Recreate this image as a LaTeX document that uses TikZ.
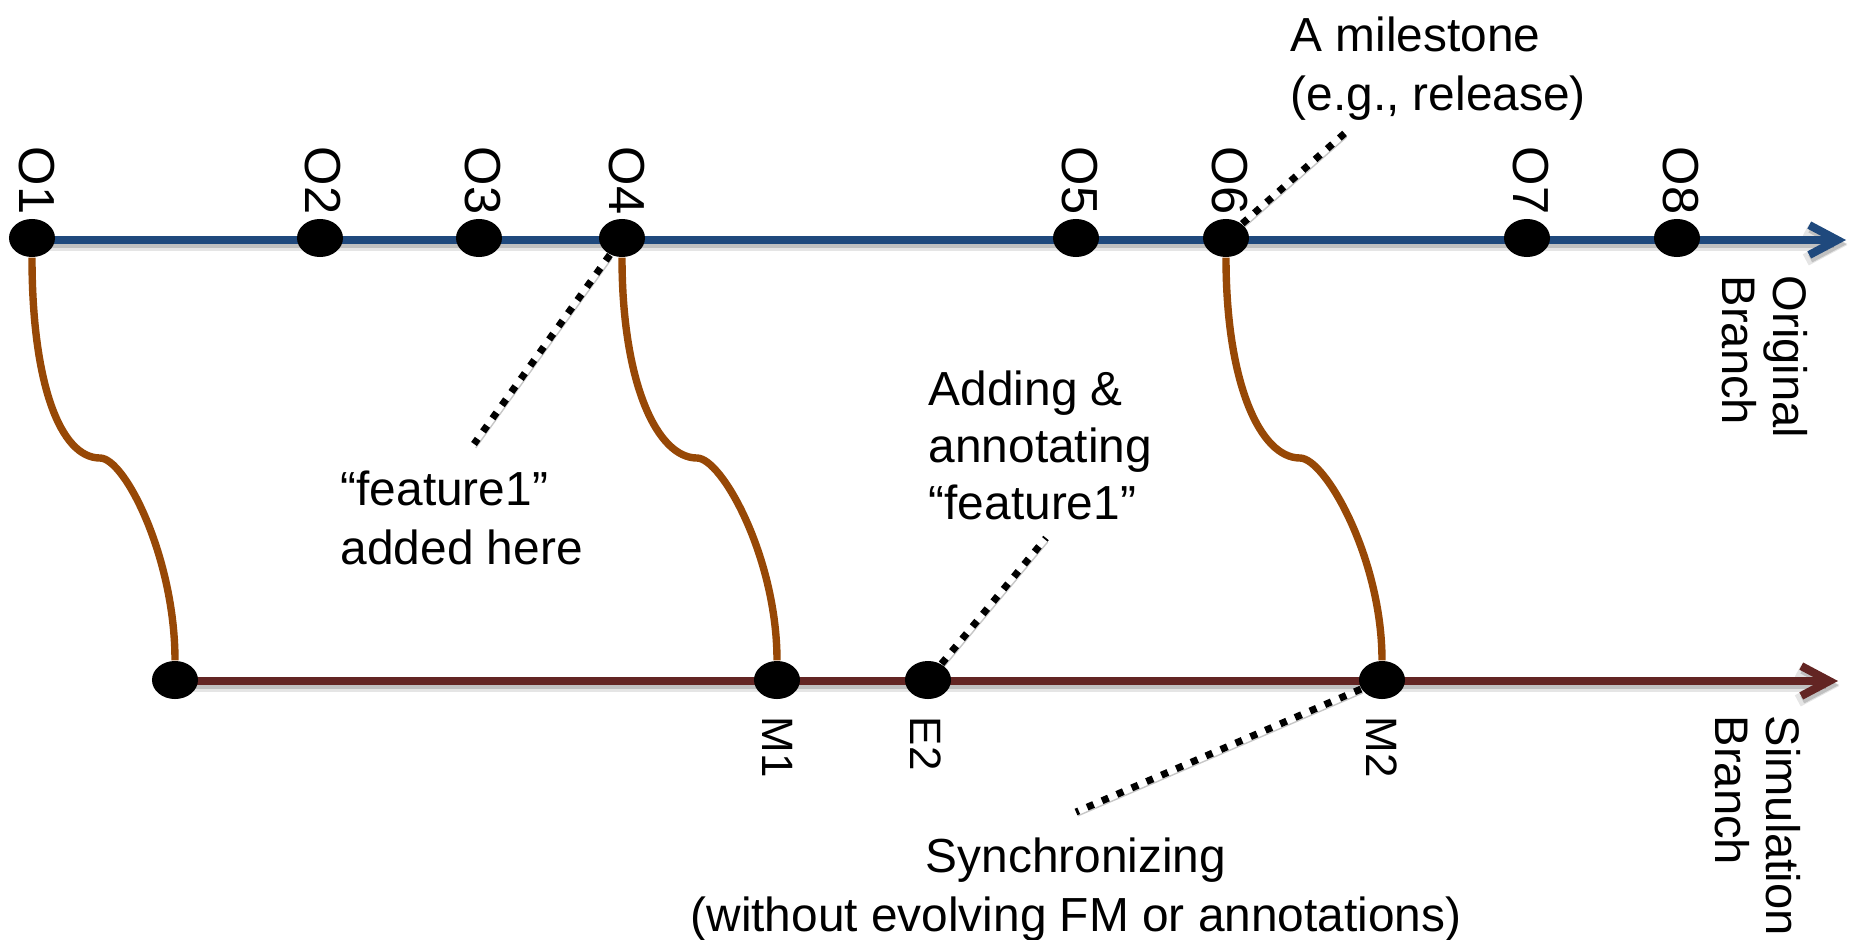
\documentclass[tikz,border=0pt]{standalone}
\usepackage{fontspec}
\setmainfont{Liberation Sans}
\usetikzlibrary{shapes.geometric,arrows.meta,backgrounds,calc}
\definecolor{origblue}{RGB}{31,73,125}
\definecolor{simred}{RGB}{99,37,35}
\definecolor{syncbrown}{RGB}{151,72,6}
\begin{document}
\begin{tikzpicture}[x=0.01cm,y=-0.01cm,
  commit/.style={ellipse, fill=black, minimum width=0.46cm, minimum height=0.38cm, inner sep=0pt},
  olabel/.style={rotate=-90, anchor=west, inner sep=0pt, font=\fontsize{14.4}{17}\selectfont},
  mlabel/.style={rotate=-90, anchor=west, inner sep=0pt, font=\fontsize{12.5}{15}\selectfont},
  note/.style={inner sep=0pt, font=\fontsize{13.6}{16.8}\selectfont},
  branchname/.style={rotate=-90, anchor=north west, inner sep=0pt, align=left, font=\fontsize{13.4}{14.5}\selectfont},
  branch/.style={line width=2.3pt, line join=round, -{Straight Barb[length=8pt,width=8.5pt]},
    preaction={draw=black, opacity=0.10, line width=3.6pt, transform canvas={xshift=0.4pt,yshift=-1.4pt}},
    preaction={draw=black, opacity=0.16, line width=2.3pt, transform canvas={xshift=0.3pt,yshift=-1.1pt}}},
  sync/.style={draw=syncbrown, line width=2.1pt},
  pointer/.style={line width=2pt, dash pattern=on 2pt off 2.6pt,
    preaction={draw=black, opacity=0.22, transform canvas={xshift=0.5pt,yshift=-1.1pt}}},
]
\useasboundingbox (0,0) rectangle (1854,939);

% commits on the original branch
\node[commit] (o1) at (32,238) {};
\node[commit] (o2) at (320,238) {};
\node[commit] (o3) at (479,238) {};
\node[commit] (o4) at (622,238) {};
\node[commit] (o5) at (1076,238) {};
\node[commit] (o6) at (1226,238) {};
\node[commit] (o7) at (1527,238) {};
\node[commit] (o8) at (1677,238) {};
\coordinate (otip) at (1846,240);

% commits on the simulation branch
\node[commit] (s0) at (175,680) {};
\node[commit] (m1) at (777,680) {};
\node[commit] (e2) at (928,680) {};
\node[commit] (m2) at (1382,680) {};
\coordinate (stip) at (1838,681);

% commit labels
\node[olabel] (lo1) at (37,146) {O1};
\node[olabel] (lo2) at (323,146) {O2};
\node[olabel] (lo3) at (483,146) {O3};
\node[olabel] (lo4) at (627,146) {O4};
\node[olabel] (lo5) at (1080,146) {O5};
\node[olabel] (lo6) at (1230,146) {O6};
\node[olabel] (lo7) at (1531,146) {O7};
\node[olabel] (lo8) at (1681,146) {O8};
\node[mlabel] (lm1) at (778,716) {M1};
\node[mlabel] (le2) at (926,716) {E2};
\node[mlabel] (lm2) at (1382,716) {M2};

% branch names
\node[branchname] (origname) at (1808,275) {Original\\Branch};
\node[branchname] (simname) at (1801,715) {Simulation\\Branch};

% annotations
\node[note, anchor=north west, align=left] (milestone) at (1290,16) {A milestone\\(e.g., release)};
\node[note, anchor=north west, align=left] (added) at (340,470) {“feature1”\\added here};
\node[note, anchor=north west, align=left, font=\fontsize{13.6}{16.2}\selectfont] (adding) at (928,370) {Adding \&\\annotating\\“feature1”};
\node[note, anchor=north, align=center] (syncnote) at (1076,837) {Synchronizing\\(without evolving FM or annotations)};

% bends of the synchronisation links
\coordinate (b1) at (100,458);
\coordinate (b2) at (697,458);
\coordinate (b3) at (1300,458);

\begin{scope}[on background layer]
  \draw[branch, draw=origblue] (o1.center |- otip) -- (otip);
  \draw[branch, draw=simred] (s0.center |- stip) -- (stip);
  \draw[sync] (o1.south) .. controls +(0,125) and +(-40,0) .. (b1)
              .. controls +(25,0) and +(0,-102) .. (s0.north);
  \draw[sync] (o4.south) .. controls +(0,125) and +(-40,0) .. (b2)
              .. controls +(25,0) and +(0,-102) .. (m1.north);
  \draw[sync] (o6.south) .. controls +(0,125) and +(-40,0) .. (b3)
              .. controls +(25,0) and +(0,-102) .. (m2.north);
\end{scope}

% pointers from annotations
\coordinate (p1) at (1345,133);
\coordinate (p2) at (474,444);
\coordinate (p3) at (1046,538);
\coordinate (p4) at (1076,812);
\draw[pointer] (o6) -- (p1);
\draw[pointer] (o4) -- (p2);
\draw[pointer] (e2) -- (p3);
\draw[pointer] (m2) -- (p4);
\end{tikzpicture}
\end{document}
